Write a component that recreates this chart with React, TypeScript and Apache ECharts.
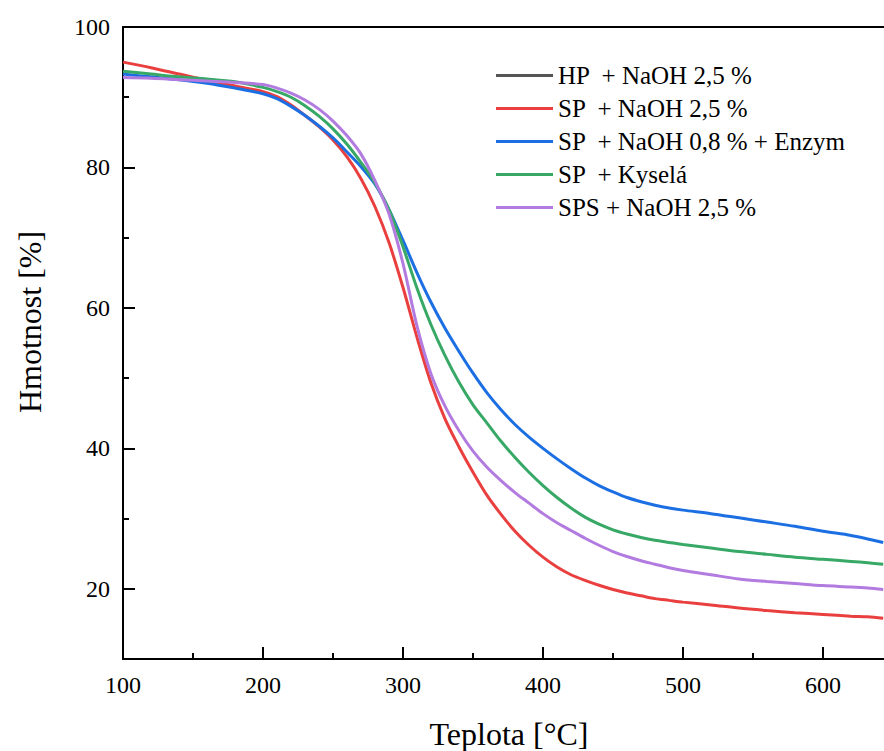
import React, { useEffect, useRef } from "react";
import * as echarts from "echarts";

// Temperature samples [°C]
const temps = [100, 120, 140, 160, 180, 200, 210, 220, 230, 240, 250, 260, 270, 280, 290, 300, 310, 320, 330, 340, 350, 360, 370, 380, 390, 400, 410, 420, 430, 440, 450, 460, 470, 480, 490, 500, 520, 540, 560, 580, 600, 620, 632, 643];

// Mass [%] per sample
const hpNaoh25: number[] = []; // HP + NaOH 2,5 % (not visible in the plot)
const spNaoh25 = [95.0, 94.2, 93.3, 92.4, 91.6, 90.8, 90.1, 88.9, 87.4, 85.8, 83.9, 81.5, 78.4, 74.4, 69.3, 62.9, 55.8, 49.3, 44.2, 40.2, 36.6, 33.3, 30.6, 28.2, 26.2, 24.5, 23.1, 22.0, 21.2, 20.5, 19.9, 19.4, 19.0, 18.6, 18.35, 18.1, 17.7, 17.25, 16.9, 16.6, 16.35, 16.1, 16.0, 15.8];
const spNaoh08Enzym = [93.3, 92.9, 92.5, 92.0, 91.3, 90.5, 89.8, 88.7, 87.4, 85.9, 84.2, 82.2, 80.1, 77.6, 74.0, 69.6, 65.0, 60.8, 57.1, 53.8, 50.7, 47.9, 45.5, 43.4, 41.6, 40.0, 38.5, 37.1, 35.8, 34.7, 33.8, 33.0, 32.4, 31.9, 31.5, 31.2, 30.7, 30.1, 29.5, 28.9, 28.2, 27.6, 27.1, 26.6];
const spKysela = [93.7, 93.3, 92.9, 92.6, 92.2, 91.4, 90.8, 90.0, 88.8, 87.3, 85.5, 83.3, 80.7, 77.8, 74.0, 68.7, 62.8, 57.6, 53.2, 49.4, 46.2, 43.6, 41.0, 38.7, 36.6, 34.7, 33.0, 31.5, 30.2, 29.2, 28.4, 27.8, 27.3, 26.9, 26.6, 26.3, 25.8, 25.3, 24.9, 24.5, 24.2, 23.9, 23.7, 23.5];
const spsNaoh25 = [92.8, 92.7, 92.5, 92.3, 92.1, 91.8, 91.3, 90.6, 89.6, 88.3, 86.6, 84.5, 81.9, 78.1, 73.4, 66.3, 57.4, 50.6, 46.0, 42.5, 39.6, 37.3, 35.4, 33.7, 32.2, 30.7, 29.4, 28.3, 27.2, 26.2, 25.3, 24.6, 24.0, 23.5, 23.0, 22.6, 22.0, 21.4, 21.05, 20.75, 20.45, 20.25, 20.1, 19.9];

const seriesNames = ["HP  + NaOH 2,5 %", "SP  + NaOH 2,5 %", "SP  + NaOH 0,8 % + Enzym", "SP  + Kyselá", "SPS + NaOH 2,5 %"];
const seriesValues = [hpNaoh25, spNaoh25, spNaoh08Enzym, spKysela, spsNaoh25];
const seriesColors = ["#555555", "#EA3F3F", "#1C6FE3", "#37A865", "#B27BE0"];

const xLabels = [100, 200, 300, 400, 500, 600];
const yMajor = [20, 40, 60, 80, 100];
const yMinor = [30, 50, 70, 90];

const FONT = "Liberation Serif";

export default function App() {
  const ref = useRef<HTMLDivElement>(null);
  useEffect(() => {
    if (!ref.current) return;
    const chart = echarts.init(ref.current, null, { renderer: "svg" });
    const axisLine = { show: true, lineStyle: { color: "#000", width: 2 } };
    const labelStyle = { fontFamily: FONT, fontSize: 24, color: "#000", fontWeight: 400 };
    chart.setOption({
      animation: false,
      backgroundColor: "#fff",
      textStyle: { fontFamily: FONT, fontWeight: 400 },
      grid: { left: 123, right: 0, top: 27, bottom: 92, containLabel: false, outerBoundsMode: "none" },
      legend: {
        orient: "vertical",
        left: 491,
        top: 58,
        padding: 5,
        icon: "rect",
        itemWidth: 57,
        itemHeight: 3,
        itemGap: 8,
        textStyle: { ...labelStyle, fontSize: 25, lineHeight: 24.5 },
        data: seriesNames,
      },
      xAxis: [
        {
          type: "value",
          min: 100,
          max: 700,
          interval: 100,
          axisLine,
          axisTick: { show: true, inside: true, length: 12, lineStyle: { color: "#000", width: 2 } },
          minorTick: { show: true, splitNumber: 2, length: 6, lineStyle: { color: "#000", width: 2 } },
          axisLabel: { margin: 14, ...labelStyle, customValues: xLabels },
          splitLine: { show: false },
        },
        {
          type: "value",
          position: "top",
          min: 100,
          max: 700,
          axisLine,
          axisTick: { show: false },
          axisLabel: { show: false },
          splitLine: { show: false },
        },
      ],
      yAxis: [
        {
          type: "value",
          min: 10,
          max: 100,
          interval: 10,
          position: "left",
          axisLine,
          axisTick: { show: true, inside: true, length: 12, customValues: yMajor, lineStyle: { color: "#000", width: 2 } },
          axisLabel: {
            margin: 13,
            ...labelStyle,
            formatter: (v: number) => (yMajor.indexOf(v) >= 0 ? String(v) : ""),
          },
          splitLine: { show: false },
        },
        {
          type: "value",
          min: 10,
          max: 100,
          position: "left",
          axisLine: { show: false },
          axisTick: { show: true, inside: true, length: 6, customValues: yMinor, lineStyle: { color: "#000", width: 2 } },
          axisLabel: { show: false },
          splitLine: { show: false },
        },
      ],
      graphic: [
        {
          type: "text",
          x: 30,
          y: 322,
          rotation: Math.PI / 2,
          style: { text: "Hmotnost [%]", fontFamily: FONT, fontSize: 32, fill: "#000", align: "center", verticalAlign: "middle" },
        },
        {
          type: "text",
          x: 509,
          y: 734,
          style: { text: "Teplota [°C]", fontFamily: FONT, fontSize: 32, fill: "#000", align: "center", verticalAlign: "middle" },
        },
      ],
      series: seriesNames.map((name, i) => ({
        name,
        type: "line",
        xAxisIndex: 0,
        yAxisIndex: 0,
        data: seriesValues[i].map((v, j) => [temps[j], v]),
        showSymbol: false,
        symbol: "none",
        smooth: 0.3,
        color: seriesColors[i],
        itemStyle: { color: seriesColors[i] },
        lineStyle: { width: 3, color: seriesColors[i] },
        z: 2 + i,
      })),
    });
    return () => chart.dispose();
  }, []);
  return (
    <div style={{ position: "absolute", left: 0, top: 0, width: 884, height: 751, overflow: "hidden", background: "#fff" }}>
      <div ref={ref} style={{ width: 963, height: 751 }} />
    </div>
  );
}
